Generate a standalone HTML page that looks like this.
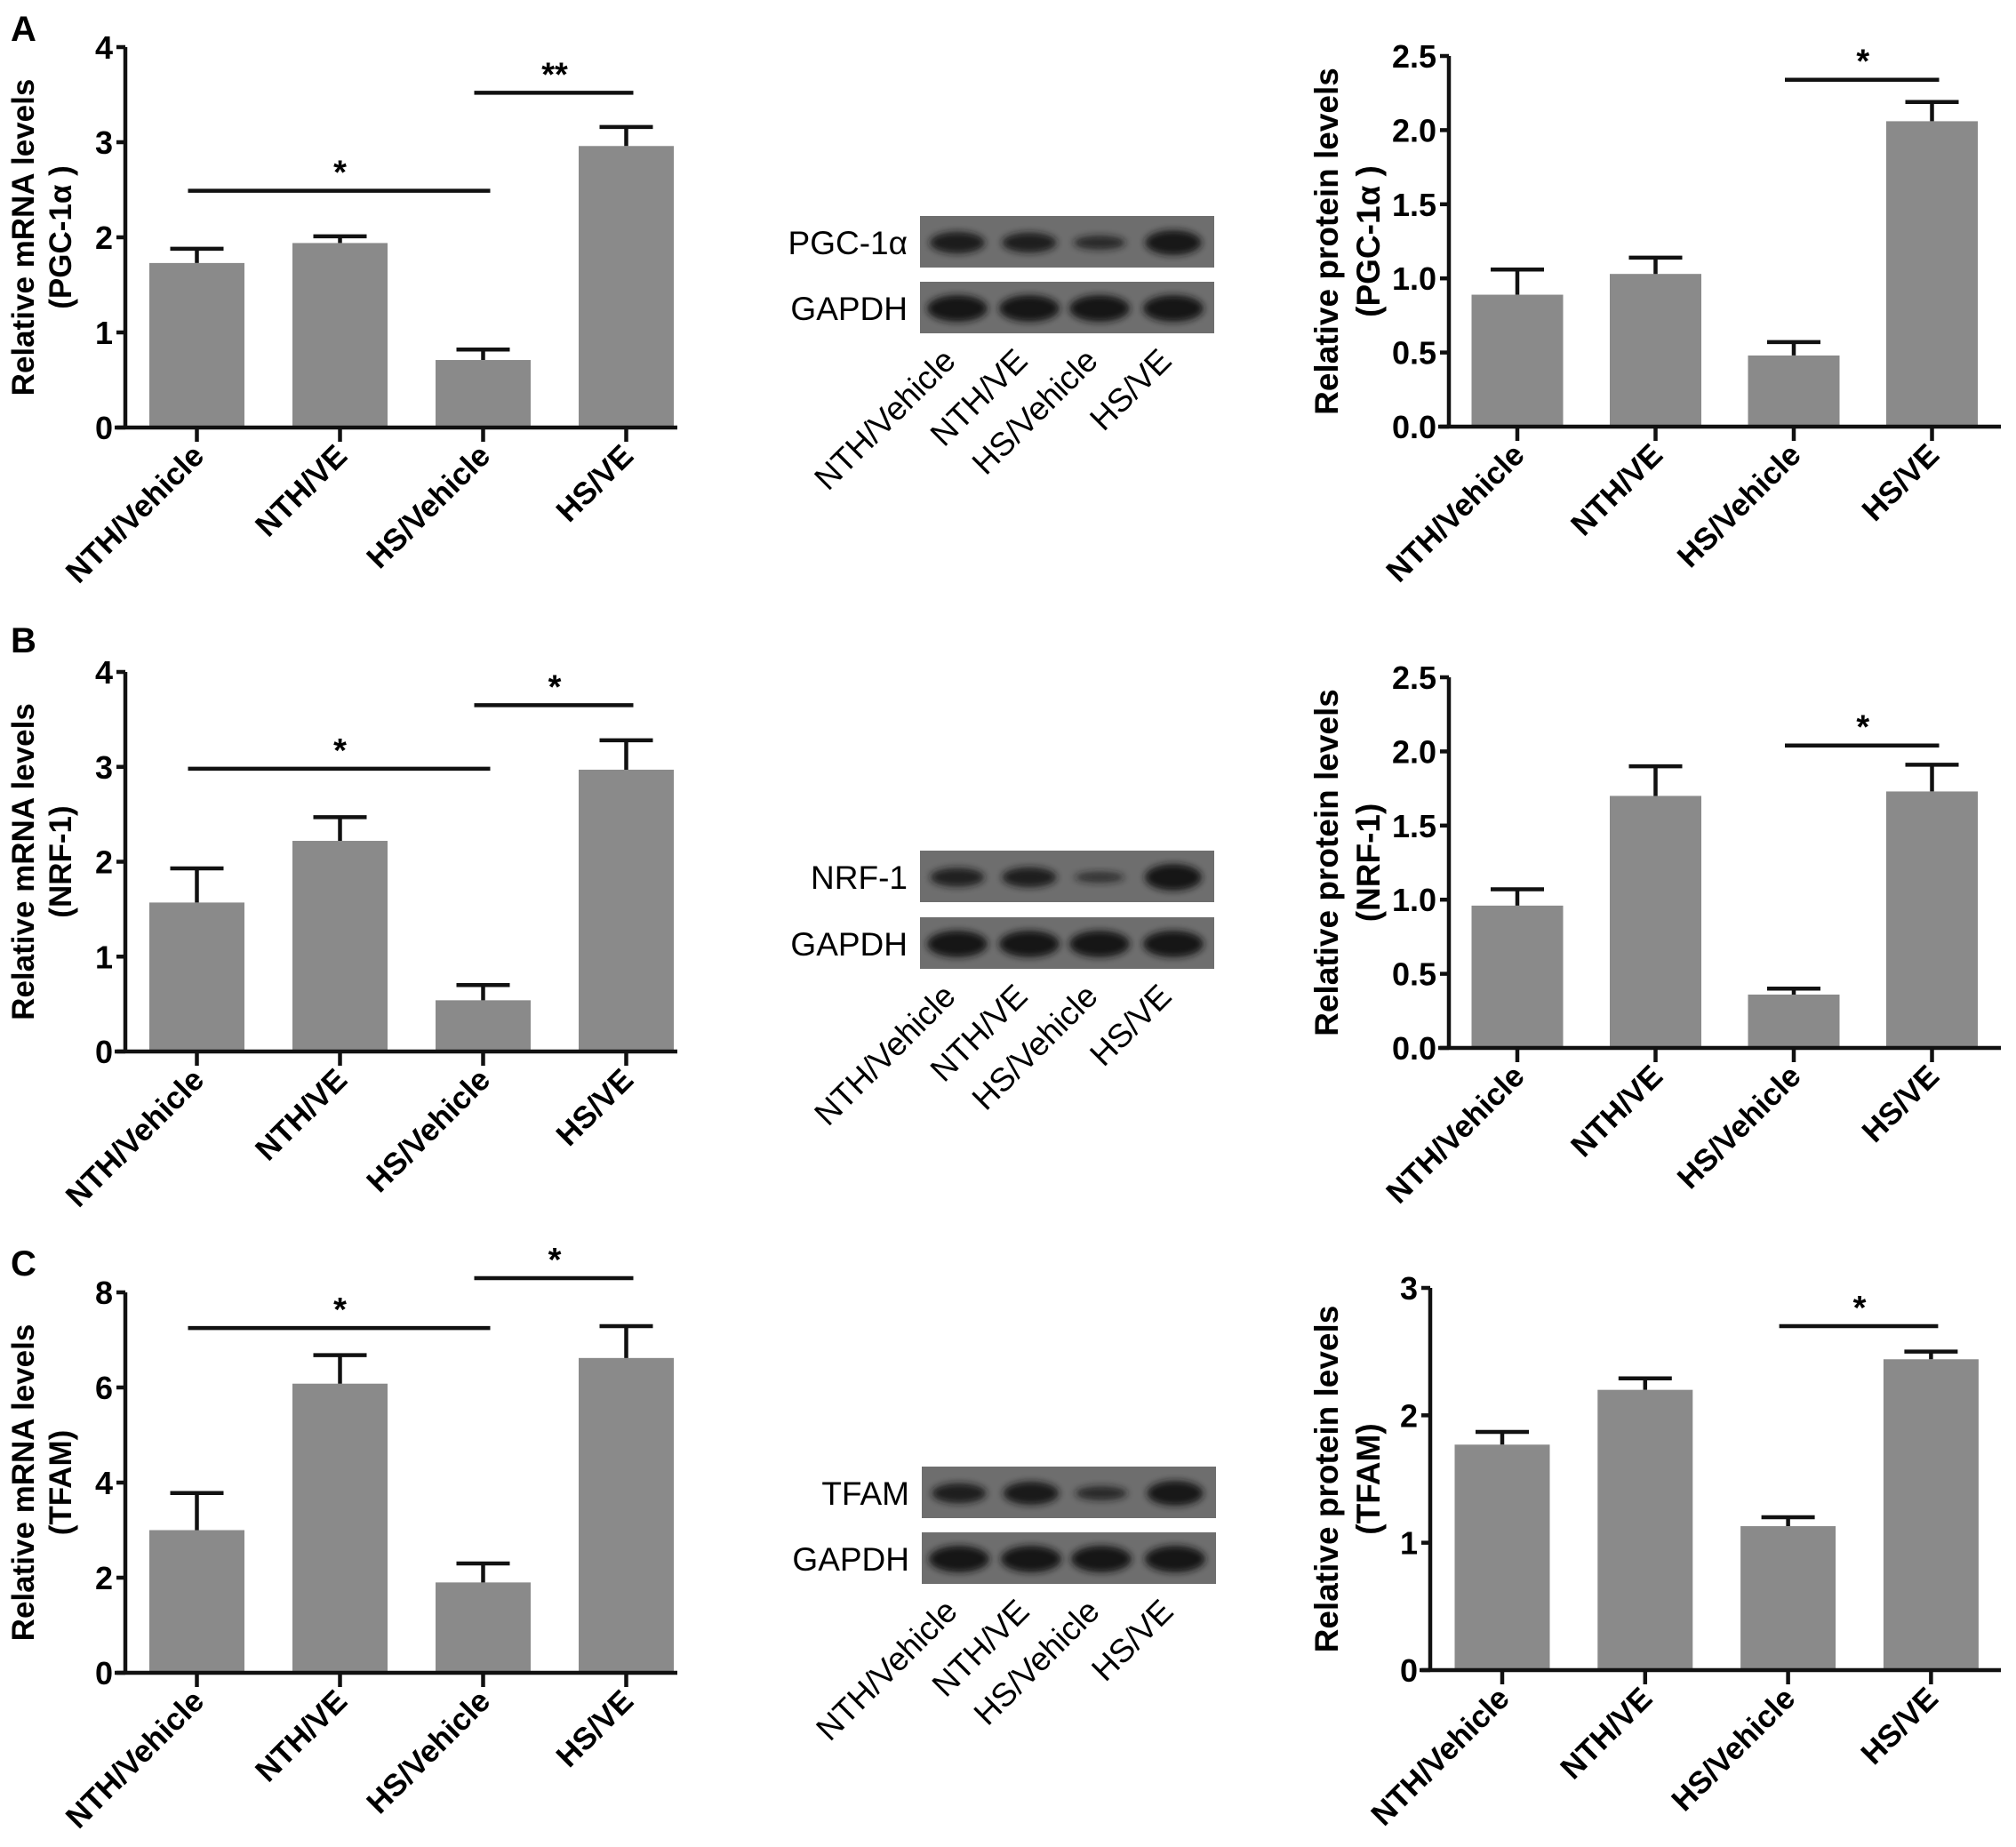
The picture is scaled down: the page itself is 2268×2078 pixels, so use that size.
<!DOCTYPE html>
<html><head><meta charset="utf-8">
<style>
html,body{margin:0;padding:0;background:#fff;}
svg{display:block;font-family:"Liberation Sans",Arial,sans-serif;}
</style></head>
<body>
<svg id="fig" width="2268" height="2078" viewBox="0 0 2268 2078" xmlns="http://www.w3.org/2000/svg">
<defs><filter id="blur" x="-20%" y="-50%" width="140%" height="200%"><feGaussianBlur stdDeviation="4"/></filter></defs>
<text x="12" y="46" font-size="40" font-weight="bold">A</text>
<text x="12" y="734" font-size="40" font-weight="bold">B</text>
<text x="12" y="1435" font-size="40" font-weight="bold">C</text>
</svg>
<script>
const categories = ["NTH/Vehicle","NTH/VE","HS/Vehicle","HS/VE"];
const mrnaPgc = [1.73,1.94,0.71,2.96];
const mrnaPgcErr = [0.15,0.07,0.11,0.20];
const protPgc = [0.89,1.03,0.48,2.06];
const protPgcErr = [0.17,0.11,0.09,0.13];
const mrnaNrf = [1.57,2.22,0.54,2.97];
const mrnaNrfErr = [0.36,0.25,0.16,0.31];
const protNrf = [0.96,1.70,0.36,1.73];
const protNrfErr = [0.11,0.20,0.04,0.18];
const mrnaTfam = [3.0,6.08,1.9,6.62];
const mrnaTfamErr = [0.78,0.60,0.40,0.67];
const protTfam = [1.77,2.20,1.13,2.44];
const protTfamErr = [0.10,0.09,0.07,0.06];
const ticks4 = [0,1,2,3,4];
const ticks25 = [0,0.5,1.0,1.5,2.0,2.5];
const ticks8 = [0,2,4,6,8];
const ticks3 = [0,1,2,3];
const bandPgc = [0.85,0.8,0.55,0.95];
const bandNrf = [0.75,0.8,0.35,1.0];
const bandTfam = [0.8,0.9,0.55,0.95];
const bandGapdh = [1,1,1,1];

const NS="http://www.w3.org/2000/svg";
const svg=document.getElementById('fig');
function mk(tag,attrs,parent){const e=document.createElementNS(NS,tag);for(const k in attrs)e.setAttribute(k,attrs[k]);(parent||svg).appendChild(e);return e;}

function chart(o){
  const g=mk('g',{});
  
  
  const ymax=o.ticks[o.ticks.length-1];
  const Y=v=>o.y0-(o.y0-o.yTop)*v/ymax;
  const X=i=>o.x1+i*o.step;
  o.vals.forEach((v,i)=>{
    const r=mk('rect',{x:X(i)-o.bw/2,y:Y(v),width:o.bw,height:o.y0-Y(v),fill:'#8a8a8a'},g);
    
    
    const top=Y(v+o.errs[i]);
    const e=mk('path',{d:`M${X(i)} ${Y(v)} V${top} M${X(i)-30} ${top} H${X(i)+30}`,stroke:'#111','stroke-width':4.5,fill:'none'},g);
    
    
  });
  const ax=mk('path',{d:`M${o.ax} ${o.yTop} V${o.y0} M${o.ax-12} ${o.y0} H${o.axEnd}`,stroke:'#111','stroke-width':4.5,fill:'none'},g);
  
  
  o.ticks.forEach(t=>{
    mk('path',{d:`M${o.ax-10} ${Y(t)} H${o.ax}`,stroke:'#111','stroke-width':4.5},g);
    const tl=mk('text',{x:o.ax-14,y:Y(t)+13,'font-size':36,'font-weight':'bold','text-anchor':'end'},g);
    tl.textContent=o.fmt?t.toFixed(1):String(t);
    
    
  });
  categories.forEach((c,i)=>{
    mk('path',{d:`M${X(i)} ${o.y0} V${o.y0+16}`,stroke:'#111','stroke-width':4.5},g);
    const tx=X(i)+10, ty=o.y0+34;
    const t=mk('text',{x:tx,y:ty,'font-size':35,'font-weight':'bold','text-anchor':'end',transform:`rotate(-45 ${tx} ${ty})`},g);
    t.textContent=c;
    
    
  });
  const cy=(o.yTop+o.y0)/2;
  const tt=mk('text',{x:o.tx,y:cy,'font-size':o.tfs,'font-weight':'bold','text-anchor':'middle',transform:`rotate(-90 ${o.tx} ${cy})`},g);
  tt.textContent=o.title1;
  
  
  const tx2=o.tx+o.tgap;
  const t2=mk('text',{x:tx2,y:cy,'font-size':o.tfs,'font-weight':'bold','text-anchor':'middle',transform:`rotate(-90 ${tx2} ${cy})`},g);
  t2.textContent=o.title2;
  
  
  o.sig.forEach(s=>{
    const y=Y(s[2]);
    const l=mk('path',{d:`M${X(s[0])-10} ${y} H${X(s[1])+8}`,stroke:'#111','stroke-width':4.5},g);
    
    
    const st=mk('text',{x:(X(s[0])+X(s[1]))/2,y:y-8,'font-size':38,'font-weight':'bold','text-anchor':'middle'},g);
    st.textContent=s[3];
    
    
  });
}

const L={x1:221.5,step:161,bw:107,ax:141,axEnd:762,tx:38,tgap:42,tfs:35};
const R={x1:1707,step:155.5,bw:103,ax:1630,axEnd:2251,tx:1505,tgap:47,tfs:37};
chart(Object.assign({},L,{name:'chart-a-mrna',vals:mrnaPgc,errs:mrnaPgcErr,ticks:ticks4,yTop:53,y0:481,title1:'Relative mRNA levels',title2:'(PGC-1α )',sig:[[0,2,2.49,'*'],[2,3,3.52,'**']]}));
chart(Object.assign({},R,{name:'chart-a-protein',vals:protPgc,errs:protPgcErr,ticks:ticks25,fmt:1,yTop:63,y0:480,title1:'Relative protein levels',title2:'(PGC-1α )',sig:[[2,3,2.34,'*']]}));
chart(Object.assign({},L,{name:'chart-b-mrna',vals:mrnaNrf,errs:mrnaNrfErr,ticks:ticks4,yTop:756,y0:1183,title1:'Relative mRNA levels',title2:'(NRF-1)',sig:[[0,2,2.98,'*'],[2,3,3.65,'*']]}));
chart(Object.assign({},R,{name:'chart-b-protein',vals:protNrf,errs:protNrfErr,ticks:ticks25,fmt:1,yTop:762,y0:1179,title1:'Relative protein levels',title2:'(NRF-1)',sig:[[2,3,2.04,'*']]}));
chart(Object.assign({},L,{name:'chart-c-mrna',vals:mrnaTfam,errs:mrnaTfamErr,ticks:ticks8,yTop:1454,y0:1882,title1:'Relative mRNA levels',title2:'(TFAM)',sig:[[0,2,7.25,'*'],[2,3,8.3,'*']]}));
chart(Object.assign({},R,{name:'chart-c-protein',x1:1690,step:160.8,bw:107,ax:1609,vals:protTfam,errs:protTfamErr,ticks:ticks3,yTop:1449,y0:1879,title1:'Relative protein levels',title2:'(TFAM)',sig:[[2,3,2.7,'*']]}));

const lanes=[1077,1158,1237,1320];
function blot(name,label,x,y,bands,lw){
  const g=mk('g',{});
  
  
  mk('rect',{x:x,y:y,width:331,height:58,fill:'#6e6e6e'},g);
  bands.forEach((b,i)=>{
    mk('ellipse',{cx:lanes[i]+(x-1035),cy:y+30,rx:lw*(0.8+0.2*b),ry:5+10*b*b,fill:'#151515',opacity:0.5+0.5*b,filter:'url(#blur)'},g);
  });
  const t=mk('text',{x:x-14,y:y+43,'font-size':37,'text-anchor':'end'},g);
  t.textContent=label;
  
  
}
function laneLabels(x,y){
  categories.forEach((c,i)=>{
    const tx=lanes[i]+(x-1035), ty=y;
    const t=mk('text',{x:tx,y:ty,'font-size':37,'text-anchor':'end',transform:`rotate(-45 ${tx} ${ty})`});
    t.textContent=c;
    
    
  });
}
blot('blot-pgc','PGC-1α',1035,243,bandPgc,32);
blot('blot-gapdh-a','GAPDH',1035,317,bandGapdh,34);
laneLabels(1035,408);
blot('blot-nrf','NRF-1',1035,957,bandNrf,32);
blot('blot-gapdh-b','GAPDH',1035,1032,bandGapdh,34);
laneLabels(1035,1123);
blot('blot-tfam','TFAM',1037,1650,bandTfam,32);
blot('blot-gapdh-c','GAPDH',1037,1724,bandGapdh,34);
laneLabels(1037,1815);
</script>
</body></html>
